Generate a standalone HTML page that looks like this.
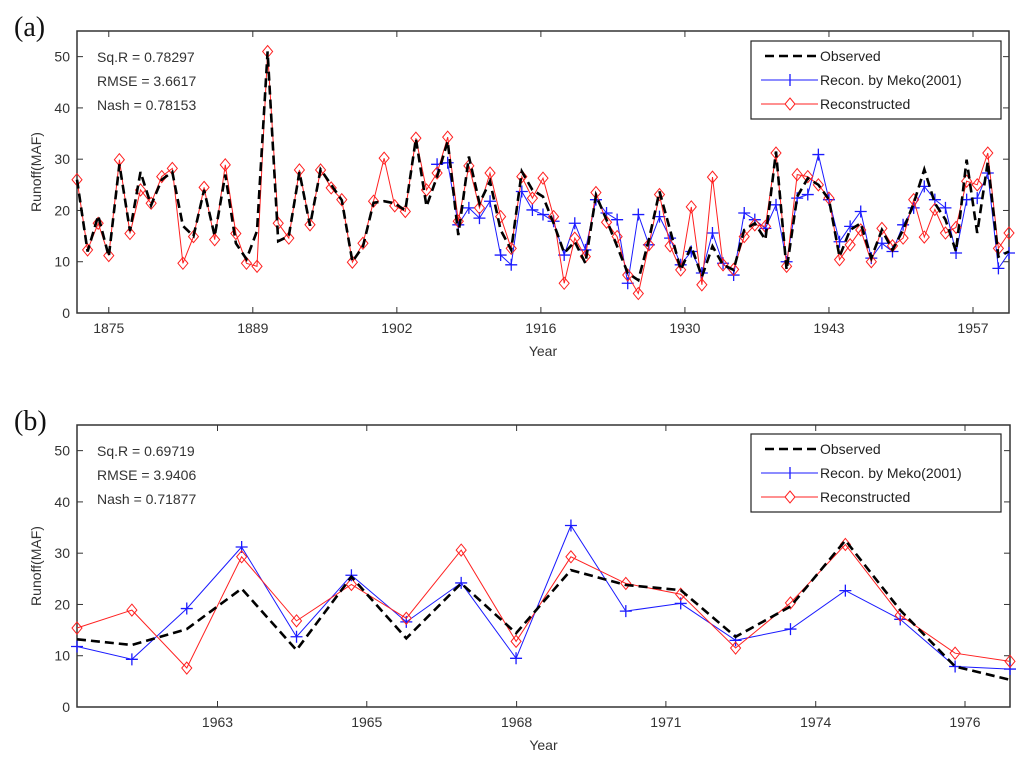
<!DOCTYPE html>
<html><head><meta charset="utf-8"><style>
html,body{margin:0;padding:0;background:#fff;}
svg{display:block;font-family:"Liberation Sans",Arial,sans-serif;}
</style></head><body>
<svg id="fig" width="1024" height="762" viewBox="0 0 1024 762"></svg>
<script>
// ---- Panel (a) data ----
const yearsA0 = 1872;
const observedA = [26,12,19,11,29,16,27.5,21,26,27.5,17,15,24,15,27,13.6,10.5,16,51,14,15,27.5,17,28,25,22,10,13,21.5,21.8,
21.4,20,34,20.8,26.6,33.5,15.2,30.5,21.4,25.7,16.2,12.3,27.6,24,22.7,17.5,11.7,13.9,9.7,23,18.2,13,7.8,6.4,14.3,23.7,16.2,8.4,13,7.1,
13,9.4,8.4,16.2,17.5,14.3,31.5,8.4,22.7,26.3,25,22.1,11,16.2,17.5,10.7,16.2,12.3,16.2,21.4,28,21.4,18.2,12,29.9,15.6,29.5,11,12];
const reconA = [26,12.3,17.5,11.2,29.9,15.5,24,21.4,26.6,28.2,9.7,14.9,24.5,14.3,28.9,15.5,9.7,9.1,51,17.5,14.6,27.9,17.2,27.9,24.4,22.1,9.9,13.6,21.8,30.2,
20.9,19.8,34.1,24,27.3,34.3,17.9,28.7,20.5,27.3,18.8,12.6,26.6,22.4,26.3,18.8,5.8,14.6,11,23.5,17.7,14.9,7.4,3.8,13.3,23.1,13.1,8.4,20.7,5.5,
26.5,9.4,8.5,14.9,17.2,16.9,31.2,9.1,27,26.6,25,22.4,10.4,13.3,16.2,10,16.5,13.1,14.6,22.1,14.8,20.2,15.6,16.7,25.7,25,31.2,12.6,15.6];
const mekoA0 = 1906;
const mekoA = [29,29.3,17.2,20.5,18.5,21.8,11.3,9.4,23.7,20.1,19.2,17.9,11.3,17.5,12.3,22.1,19.5,18.2,5.8,19.2,13.3,18.8,14.6,9.4,12,7.8,
15.6,9.7,7.4,19.5,18.2,16.5,21.1,10,22.4,23.1,30.9,22.1,13.9,16.9,19.8,10.7,13.6,12,17.2,20.5,24.7,22.1,20.5,11.7,22.1,22.4,27.3,8.7,11.7];
const xTicksA = [1875,1888.6,1902.2,1915.8,1929.4,1943,1956.6];
const xTickLabelsA = ["1875","1889","1902","1916","1930","1943","1957"];
const statsA = ["Sq.R = 0.78297","RMSE = 3.6617","Nash = 0.78153"];

// ---- Panel (b) data ----
const yearsB0 = 1960;
const observedB = [13.2,12.1,15.2,23.1,11.1,25.4,13.4,24.1,14.4,26.7,23.8,22.8,13.7,19.6,32.5,18.9,7.9,5.3];
const mekoB = [11.8,9.3,19.2,31.2,13.7,25.7,16.6,24.2,9.5,35.4,18.7,20.2,13,15.2,22.7,17.1,7.9,7.4];
const reconB = [15.4,18.9,7.6,29.3,16.8,23.9,17.3,30.6,12.8,29.3,24.1,22,11.5,20.3,31.7,17.9,10.5,8.9];
const xTicksB = [1962.56,1965.28,1968.01,1970.73,1973.46,1976.18];
const xTickLabelsB = ["1963","1965","1968","1971","1974","1976"];
const statsB = ["Sq.R = 0.69719","RMSE = 3.9406","Nash = 0.71877"];

const yTicks = [0,10,20,30,40,50];
const NS = "http://www.w3.org/2000/svg";
const svg = document.getElementById('fig');
function mk(tag, attrs, parent){const e=document.createElementNS(NS,tag);for(const k in attrs)e.setAttribute(k,attrs[k]);(parent||svg).appendChild(e);return e;}

function panel(o){
  const g = mk('g',{});
  
  
  const L=o.left,R=o.right,T=o.top,B=o.bottom;
  const sx=v=>L+(v-o.x0)/(o.x1-o.x0)*(R-L);
  const sy=v=>B-(v/55)*(B-T);
  // panel letter
  const lt=mk('text',{x:14,y:o.letterY,'font-size':28,'font-family':'"Liberation Serif",serif',fill:'#111'},g);
  lt.textContent=o.letter;
  
  
  // frame
  const fr=mk('rect',{x:L,y:T,width:R-L,height:B-T,fill:'none',stroke:'#333','stroke-width':1.5},g);
  
  
  // y ticks
  yTicks.forEach(v=>{
    const y=sy(v);
    mk('line',{x1:L,y1:y,x2:L+6,y2:y,stroke:'#333','stroke-width':1},g);
    mk('line',{x1:R,y1:y,x2:R-6,y2:y,stroke:'#333','stroke-width':1},g);
    const t=mk('text',{x:L-7,y:y+5,'text-anchor':'end','font-size':14,fill:'#333'},g);
    t.textContent=v;
    
    
  });
  o.xt.forEach((v,i)=>{
    const x=sx(v);
    mk('line',{x1:x,y1:B,x2:x,y2:B-6,stroke:'#333','stroke-width':1},g);
    mk('line',{x1:x,y1:T,x2:x,y2:T+6,stroke:'#333','stroke-width':1},g);
    const t=mk('text',{x:x,y:B+20,'text-anchor':'middle','font-size':14,fill:'#333'},g);
    t.textContent=o.xl[i];
    
    
  });
  const yl=mk('text',{x:0,y:0,'text-anchor':'middle','font-size':14,fill:'#333',transform:`translate(41,${(T+B)/2}) rotate(-90)`},g);
  yl.textContent='Runoff(MAF)';
  
  
  const xl=mk('text',{x:(L+R)/2,y:B+43,'text-anchor':'middle','font-size':14,fill:'#333'},g);
  xl.textContent='Year';
  
  
  o.stats.forEach((s,i)=>{
    const t=mk('text',{x:L+20,y:T+31+i*24,'font-size':14,fill:'#333'},g);
    t.textContent=s;
    
    
  });
  const pts=(arr,y0)=>arr.map((v,i)=>sx(y0+i).toFixed(1)+','+sy(v).toFixed(1)).join(' ');
  // meko (blue)
  const bl=mk('polyline',{points:pts(o.meko,o.meko0),fill:'none',stroke:'#1a1aff','stroke-width':1},g);
  
  
  o.meko.forEach((v,i)=>{
    const x=sx(o.meko0+i),y=sy(v);
    const p=mk('path',{d:`M${x-6},${y}H${x+6}M${x},${y-6}V${y+6}`,stroke:'#1a1aff','stroke-width':1.3},g);
    
    
  });
  // reconstructed (red)
  const rl=mk('polyline',{points:pts(o.recon,o.x0),fill:'none',stroke:'#ff2020','stroke-width':1},g);
  
  
  o.recon.forEach((v,i)=>{
    const x=sx(o.x0+i),y=sy(v);
    const p=mk('path',{d:`M${x},${y-6}L${x+5},${y}L${x},${y+6}L${x-5},${y}Z`,fill:'none',stroke:'#ff2020','stroke-width':1},g);
    
    
  });
  // observed (black dashed)
  const ol=mk('polyline',{points:pts(o.obs,o.x0),fill:'none',stroke:'#000','stroke-width':2.6,'stroke-dasharray':'9,5'},g);
  
  
  // legend
  const lg=mk('g',{},g);
  
  
  const lx=751,ly=o.legY;
  mk('rect',{x:lx,y:ly,width:250,height:78,fill:'#fff',stroke:'#222','stroke-width':1.2},lg);
  const rows=[['Observed','obs'],['Recon. by Meko(2001)','meko'],['Reconstructed','rec']];
  rows.forEach((r,i)=>{
    const yy=ly+15+i*24;
    const e=mk('g',{},lg);
    
    
    if(r[1]==='obs') mk('line',{x1:lx+14,y1:yy,x2:lx+67,y2:yy,stroke:'#000','stroke-width':2.6,'stroke-dasharray':'9,5'},e);
    if(r[1]==='meko'){mk('line',{x1:lx+10,y1:yy,x2:lx+67,y2:yy,stroke:'#1a1aff','stroke-width':1},e);mk('path',{d:`M${lx+39},${yy-6}V${yy+6}`,stroke:'#1a1aff','stroke-width':1.3},e);}
    if(r[1]==='rec'){mk('line',{x1:lx+10,y1:yy,x2:lx+67,y2:yy,stroke:'#ff2020','stroke-width':1},e);mk('path',{d:`M${lx+39},${yy-6}L${lx+44},${yy}L${lx+39},${yy+6}L${lx+34},${yy}Z`,fill:'#fff',stroke:'#ff2020','stroke-width':1},e);}
    const t=mk('text',{x:lx+69,y:yy+5,'font-size':14,fill:'#222'},e);
    t.textContent=r[0];
  });
}
panel({name:'chart-a',letter:'(a)',letterY:36,left:77,right:1009,top:31,bottom:313,x0:1872,x1:1960,
  xt:xTicksA,xl:xTickLabelsA,stats:statsA,obs:observedA,recon:reconA,meko:mekoA,meko0:mekoA0,legY:41});
panel({name:'chart-b',letter:'(b)',letterY:430,left:77,right:1010,top:425,bottom:707,x0:1960,x1:1977,
  xt:xTicksB,xl:xTickLabelsB,stats:statsB,obs:observedB,recon:reconB,meko:mekoB,meko0:yearsB0,legY:434});
</script>
</body></html>
